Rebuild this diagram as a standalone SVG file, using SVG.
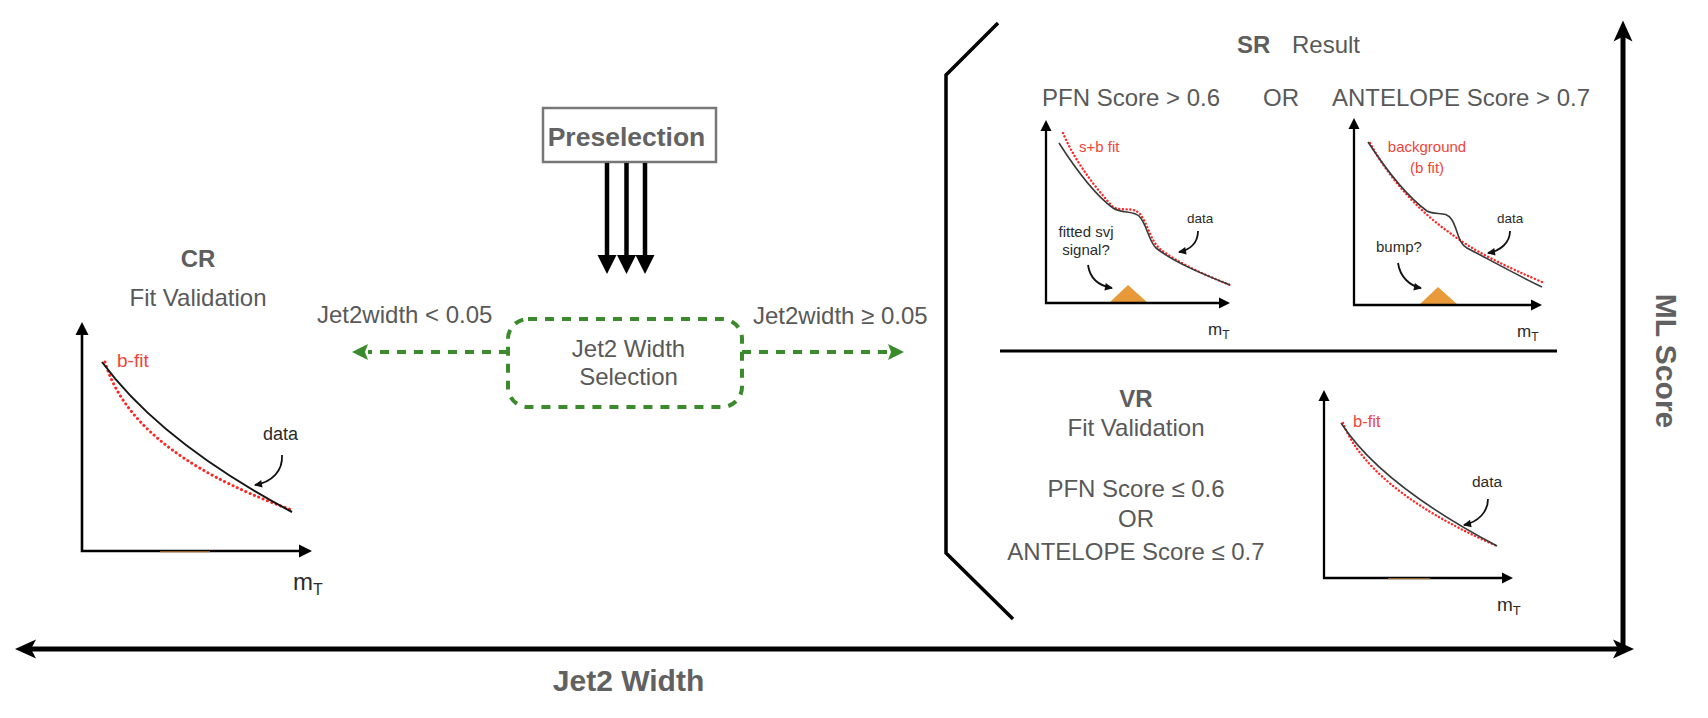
<svg xmlns="http://www.w3.org/2000/svg" width="1708" height="718" viewBox="0 0 1708 718">
<style>
text{font-family:"Liberation Sans",Arial,Helvetica,sans-serif}
.t{fill:#595959;font-size:24px}
.b{fill:#5e5e5e;font-size:24px;font-weight:bold}
.big{fill:#616161;font-size:30px;font-weight:bold}
.lab{fill:#2b2b2b}
.red{fill:#f0453a}
.ax{fill:none;stroke:#000;stroke-width:2.6}
.axs{fill:none;stroke:#000;stroke-width:2.3}
.dat{fill:none;stroke:#151515;stroke-width:2}
.dats{fill:none;stroke:#3a3a3a;stroke-width:1.6}
.fit{fill:none;stroke:#ff2626;stroke-width:3;stroke-dasharray:0.1 4.6;stroke-linecap:round}
.fits{fill:none;stroke:#ff2626;stroke-width:2.4;stroke-dasharray:0.1 3.6;stroke-linecap:round}
.call{fill:none;stroke:#111;stroke-width:1.8}
.sig{fill:#e8993a}
.faint{fill:#c98a3f;opacity:0.7}
.main{fill:none;stroke:#000;stroke-width:5}
.thick{fill:none;stroke:#000;stroke-width:4.5}
.grn{fill:none;stroke:#3b8a2c;stroke-width:4;stroke-dasharray:9 8}
.brk{fill:none;stroke:#000;stroke-width:3.5}
</style>
<defs>
<marker id="cls" markerUnits="userSpaceOnUse" orient="auto-start-reverse" overflow="visible" refX="0" refY="0"><path d="M14,0 L-7,-9.5 L-2,0 L-7,9.5 Z" fill="#000"/></marker>
<marker id="blk" markerUnits="userSpaceOnUse" orient="auto" overflow="visible" refX="0" refY="0"><path d="M19,0 L0,-9.5 L0,9.5 Z" fill="#000"/></marker>
<marker id="ga" markerUnits="userSpaceOnUse" orient="auto" overflow="visible" refX="0" refY="0"><path d="M16,0 L0,-8 L3,0 L0,8 Z" fill="#3b8a2c"/></marker>
<marker id="triL" markerUnits="userSpaceOnUse" orient="auto-start-reverse" overflow="visible" refX="0" refY="0"><path d="M13,0 L0,-6.5 L0,6.5 Z" fill="#000"/></marker>
<marker id="triS" markerUnits="userSpaceOnUse" orient="auto-start-reverse" overflow="visible" refX="0" refY="0"><path d="M11,0 L0,-5.5 L0,5.5 Z" fill="#000"/></marker>
<marker id="ca" markerUnits="userSpaceOnUse" orient="auto" overflow="visible" refX="0" refY="0"><path d="M1,0 L-7,-3.8 L-7,3.8 Z" fill="#111"/></marker>
</defs>

<g id="axes">
<path class="main" d="M29,649 L1620,649" marker-start="url(#cls)" marker-end="url(#cls)"/>
<path class="main" d="M1623,651.5 L1623,34.5" marker-end="url(#cls)"/>
<text class="big" x="628.5" y="691" text-anchor="middle">Jet2 Width</text>
<text class="big" transform="translate(1656,361) rotate(90)" text-anchor="middle">ML Score</text>
</g>

<g id="preselection">
<rect x="543" y="108" width="173" height="54" fill="#fff" stroke="#777" stroke-width="2.5"/>
<text x="626.5" y="146" text-anchor="middle" style="fill:#636363;font-size:26.5px;font-weight:bold">Preselection</text>
</g>

<g id="jet2-selection">
<rect class="grn" x="508" y="319" width="234" height="88" rx="20" ry="20"/>
<text class="t" x="628.5" y="357" text-anchor="middle">Jet2 Width</text>
<text class="t" x="628.5" y="385" text-anchor="middle">Selection</text>
</g>

<g id="connectors">
<path class="thick" d="M607,163 L607,255" marker-end="url(#blk)"/>
<path class="thick" d="M626.5,163 L626.5,255" marker-end="url(#blk)"/>
<path class="thick" d="M645,163 L645,255" marker-end="url(#blk)"/>
<path class="grn" d="M508,352 L368,352" marker-end="url(#ga)"/>
<path class="grn" d="M742,352 L888,352" marker-end="url(#ga)"/>
<text class="t" x="317" y="323">Jet2width &lt; 0.05</text>
<text class="t" x="753" y="324">Jet2width ≥ 0.05</text>
</g>

<g id="regions">
<polyline class="brk" points="998,23 946,75 946,553 1013,619"/>
<line x1="1000" y1="351" x2="1557" y2="351" stroke="#000" stroke-width="3"/>
</g>

<g id="CR">
<text class="b" x="198" y="267" text-anchor="middle">CR</text>
<text class="t" x="198" y="306" text-anchor="middle">Fit Validation</text>
<path class="ax" d="M82,335 L82,551 L299,551" marker-start="url(#triL)" marker-end="url(#triL)"/>
<rect class="faint" x="160" y="551" width="50" height="1.5"/>
<path class="fit" d="M105,362 C121,416 174,468 292,510"/>
<path class="dat" d="M102,362 C130,400 185,455 292,512"/>
<text class="red" x="117" y="367" font-size="19">b-fit</text>
<text class="lab" x="263" y="440" font-size="18">data</text>
<path class="call" d="M282,455 C283,471 272,482 255,485" marker-end="url(#ca)"/>
<text class="lab" x="293" y="590" font-size="24">m<tspan font-size="16" dy="5">T</tspan></text>
</g>

<g id="SR">
<text class="b" x="1237" y="53">SR</text>
<text class="t" x="1292" y="53">Result</text>
<text class="t" x="1042" y="106">PFN Score &gt; 0.6</text>
<text class="t" x="1263" y="106">OR</text>
<text class="t" x="1332" y="106">ANTELOPE Score &gt; 0.7</text>

<polygon class="sig" points="1109,303 1128,285 1148,303"/>
<path class="axs" d="M1046,131 L1046,303 L1219,303" marker-start="url(#triS)" marker-end="url(#triS)"/>
<path class="fits" d="M1063,133 C1072,155 1090,182 1113,207 C1122,212 1133,206 1140,214 C1148,224 1150,240 1160,249 C1178,263 1205,275 1230,285"/>
<path class="dats" d="M1059,143 C1075,168 1095,195 1113,208 C1122,214 1132,210 1139,216 C1147,224 1148,240 1156,248 C1175,263 1205,275 1230,285"/>
<text class="red" x="1079" y="152" font-size="15">s+b fit</text>
<text class="lab" x="1187" y="223" font-size="13.5">data</text>
<path class="call" d="M1198,231 C1198,243 1190,250 1179,252" marker-end="url(#ca)"/>
<text class="lab" x="1086" y="237" font-size="15" text-anchor="middle">fitted svj</text>
<text class="lab" x="1086" y="255" font-size="15" text-anchor="middle">signal?</text>
<path class="call" d="M1088,265 C1090,279 1100,286 1112,288" marker-end="url(#ca)"/>
<text class="lab" x="1208" y="335" font-size="17">m<tspan font-size="12" dy="4">T</tspan></text>

<polygon class="sig" points="1419,305 1438,287 1458,305"/>
<path class="axs" d="M1354,129 L1354,305 L1531,305" marker-start="url(#triS)" marker-end="url(#triS)"/>
<path class="fits" d="M1370,143 C1390,180 1420,212 1450,233 C1475,252 1505,266 1542,282"/>
<path class="dats" d="M1368,142 C1385,168 1405,195 1427,211 C1436,216 1446,210 1452,220 C1458,230 1458,243 1467,248 C1490,260 1515,274 1542,287"/>
<text class="red" x="1427" y="152" font-size="15" text-anchor="middle">background</text>
<text class="red" x="1427" y="173" font-size="15" text-anchor="middle">(b fit)</text>
<text class="lab" x="1497" y="223" font-size="13.5">data</text>
<path class="call" d="M1510,231 C1510,243 1500,251 1488,253" marker-end="url(#ca)"/>
<text class="lab" x="1376" y="252" font-size="15">bump?</text>
<path class="call" d="M1398,263 C1400,277 1410,286 1421,288" marker-end="url(#ca)"/>
<text class="lab" x="1517" y="337" font-size="17">m<tspan font-size="12" dy="4">T</tspan></text>
</g>

<g id="VR">
<text class="b" x="1136" y="407" text-anchor="middle">VR</text>
<text class="t" x="1136" y="436" text-anchor="middle">Fit Validation</text>
<text class="t" x="1136" y="497" text-anchor="middle">PFN Score ≤ 0.6</text>
<text class="t" x="1136" y="527" text-anchor="middle">OR</text>
<text class="t" x="1136" y="560" text-anchor="middle">ANTELOPE Score ≤ 0.7</text>
<path class="axs" d="M1324,401 L1324,578 L1502,578" marker-start="url(#triS)" marker-end="url(#triS)"/>
<rect class="faint" x="1388" y="578" width="42" height="1.3"/>
<path class="fits" d="M1343,423 C1358,462 1403,505 1497,546"/>
<path class="dats" d="M1341,423 C1365,460 1410,500 1497,546"/>
<text class="red" x="1353" y="427" font-size="16.5">b-fit</text>
<text class="lab" x="1472" y="487" font-size="15.5">data</text>
<path class="call" d="M1488,499 C1488,512 1478,522 1464,525" marker-end="url(#ca)"/>
<text class="lab" x="1497" y="611" font-size="19">m<tspan font-size="13" dy="4">T</tspan></text>
</g>
</svg>
